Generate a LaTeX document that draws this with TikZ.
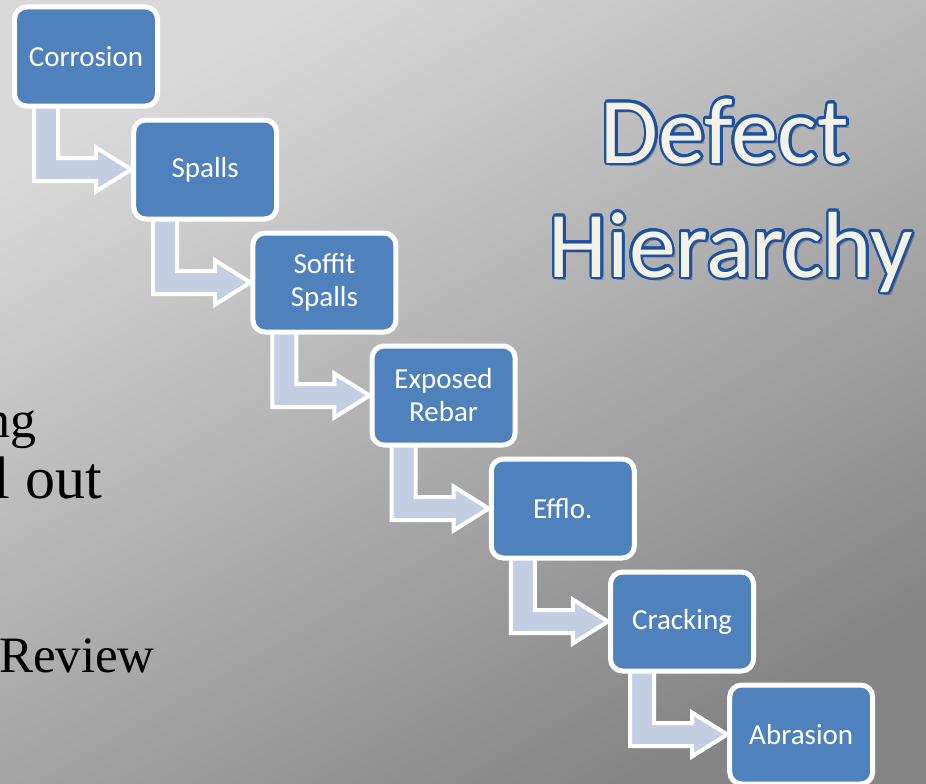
\documentclass[tikz,border=0pt]{standalone}
\usepackage{fontspec}
\setmainfont{Liberation Serif}
\newfontfamily\boxfont{Carlito}
\usetikzlibrary{calc}
\definecolor{bxblue}{HTML}{4F81BD}
\definecolor{arrfill}{HTML}{C4CEE2}
\definecolor{ttlfill}{HTML}{F4F1E6}
\definecolor{ttlline}{HTML}{1B51A0}
\definecolor{bgtop}{HTML}{D9D9D9}
\definecolor{bgbot}{HTML}{858585}
\pgfdeclarelayer{bglayer}
\pgfdeclarelayer{arrlayer}
\pgfsetlayers{bglayer,arrlayer,main}
\newcommand{\bentarr}[2]{%
  \draw[bentarrow] let \p1=(#1.south west), \p2=(#2.west) in
    (\x1+22pt,\y1+10pt) -- (\x1+22pt,\y2-11.5pt) -- (\x1+84pt,\y2-11.5pt)
    -- (\x1+84pt,\y2-22pt) -- (\x2,\y2) -- (\x1+84pt,\y2+22pt)
    -- (\x1+84pt,\y2+11.5pt) -- (\x1+46pt,\y2+11.5pt) -- (\x1+46pt,\y1+10pt) -- cycle;}
\newcommand{\ttlnode}[3]{%
  \node[ttl, text=black, opacity=0.25] at ($(#2)+(3pt,-3pt)$) {#3};
  \foreach \a in {0,20,...,340}{\node[ttl, text=ttlline] at ($(#2)+(\a:2.5pt)$) {#3};}
  \node[ttl, text=ttlfill] (#1) at (#2) {#3};}
\begin{document}
\begin{tikzpicture}[x=1pt,y=-1pt,
  stepbox/.style={draw=white, line width=5pt, fill=bxblue, rounded corners=12pt,
    minimum width=143pt, minimum height=99pt, inner sep=0pt, text=white,
    font=\boxfont\fontsize{29}{33}\selectfont, align=center},
  bentarrow/.style={draw=white, line width=4pt, fill=arrfill, line join=miter},
  ttl/.style={inner sep=0pt, anchor=base, font=\boxfont\fontsize{94}{110}\selectfont},
  sidetxt/.style={inner sep=0pt, anchor=base east, text=black}]
\begin{pgfonlayer}{bglayer}
\shade[top color=bgtop, bottom color=bgbot, shading angle=30] (0,0) rectangle (926,784);
\end{pgfonlayer}
\useasboundingbox (0,0) rectangle (926,784);
% side texts
\node[sidetxt, font=\fontsize{52}{60}\selectfont] (s1) at (37,437) {ng};
\node[sidetxt, font=\fontsize{60}{68}\selectfont] (s2) at (102,498) {l out};
\node[sidetxt, font=\fontsize{51}{60}\selectfont] (s3) at (155,672) {Review};
% boxes
\node[stepbox] (corrosion) at (86,56.5) {Corrosion};
\node[stepbox] (spalls) at (205.2,169.5) {Spalls};
\node[stepbox] (soffit) at (324.4,282.5) {Soffit\\Spalls};
\node[stepbox] (rebar) at (443.6,395.5) {Exposed\\Rebar};
\node[stepbox] (efflo) at (562.8,508.5) {Efflo.};
\node[stepbox] (cracking) at (682,621.5) {Cracking};
\node[stepbox] (abrasion) at (801.2,734.5) {Abrasion};
% arrows
\begin{pgfonlayer}{arrlayer}
\bentarr{corrosion}{spalls}
\bentarr{spalls}{soffit}
\bentarr{soffit}{rebar}
\bentarr{rebar}{efflo}
\bentarr{efflo}{cracking}
\bentarr{cracking}{abrasion}
\end{pgfonlayer}
% title
\ttlnode{t1}{725,163}{Defect}
\ttlnode{t2}{731,277}{Hierarchy}
\end{tikzpicture}
\end{document}
